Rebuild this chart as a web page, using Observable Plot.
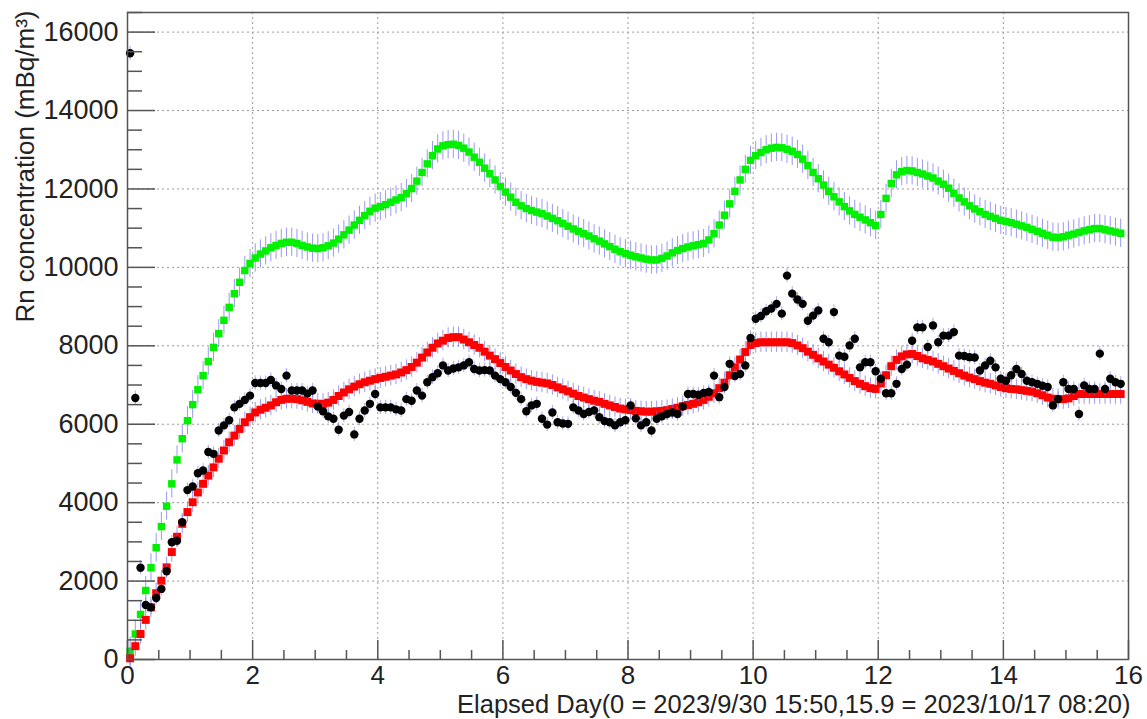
<!DOCTYPE html>
<html><head><meta charset="utf-8">
<script src="https://cdn.jsdelivr.net/npm/d3@7"></script>
<script src="https://cdn.jsdelivr.net/npm/@observablehq/plot@0.6"></script>
<style>body{margin:0;background:#fff;} #chart svg{display:block;}</style>
</head><body><div id="chart"></div>
<script>
// sampling: one point every 2 hours, first point at 1 hour
const firstDay = 1/24;
const stepDays = 1/12;

// green series (mBq/m^3)
const green = [
210,650,1150,1760,2340,2850,3390,3910,4480,5090,5630,6090,
6500,6880,7240,7600,7960,8310,8650,8980,9330,9620,9920,10100,
10240,10340,10420,10500,10560,10610,10640,10640,10610,10560,10520,10490,
10480,10500,10550,10620,10720,10830,10950,11080,11200,11320,11430,11510,
11550,11600,11660,11720,11780,11880,12010,12200,12420,12640,12850,13020,
13100,13130,13140,13110,13040,12940,12810,12680,12530,12390,12230,12060,
11920,11790,11660,11570,11500,11450,11410,11370,11310,11250,11190,11120,
11050,10980,10920,10860,10800,10730,10670,10600,10530,10460,10400,10350,
10310,10270,10240,10210,10190,10190,10230,10290,10370,10430,10480,10520,
10550,10580,10610,10700,10860,11080,11330,11620,11940,12230,12500,12730,
12850,12930,13000,13040,13060,13050,13010,12960,12880,12760,12600,12420,
12260,12100,11940,11800,11670,11550,11440,11350,11280,11210,11140,11070,
11350,11760,12140,12360,12440,12470,12460,12420,12380,12330,12280,12200,
12120,12020,11890,11770,11670,11570,11490,11420,11350,11300,11250,11200,
11170,11140,11100,11060,11020,10970,10920,10870,10820,10770,10760,10780,
10820,10850,10890,10930,10960,10990,10990,10960,10930,10900,10870
];

// red series
const red = [
30,340,650,1010,1330,1690,2010,2350,2740,3130,3460,3760,
4010,4260,4480,4690,4900,5120,5330,5540,5710,5880,6050,6180,
6300,6370,6420,6480,6560,6620,6650,6650,6640,6610,6570,6530,
6520,6520,6550,6620,6720,6810,6890,6960,7020,7070,7110,7150,
7180,7210,7240,7270,7320,7380,7460,7570,7700,7830,7950,8060,
8130,8200,8220,8220,8160,8090,8020,7950,7850,7750,7660,7560,
7460,7370,7280,7200,7150,7110,7080,7060,7040,7000,6940,6890,
6840,6780,6720,6680,6640,6600,6570,6520,6480,6440,6400,6380,
6360,6340,6330,6320,6320,6330,6340,6360,6390,6420,6460,6490,
6520,6560,6620,6700,6790,6920,7060,7250,7450,7650,7840,8020,
8070,8090,8090,8090,8090,8090,8090,8070,8010,7940,7850,7770,
7680,7600,7520,7440,7350,7270,7180,7100,7030,6970,6920,6900,
7040,7250,7480,7640,7730,7780,7790,7740,7680,7640,7600,7540,
7480,7420,7360,7300,7240,7190,7150,7100,7060,7030,6990,6950,
6920,6900,6890,6870,6850,6830,6790,6740,6680,6650,6640,6640,
6660,6720,6770,6770,6770,6770,6770,6770,6770,6770,6770
];

// black (measured) series
const black = [
15460,6670,2340,1390,1330,1570,1800,2250,2990,3030,3500,4320,
4410,4750,4820,5290,5245,5840,5970,6100,6430,6520,6620,6730,
7050,7050,7050,7130,6990,6900,7240,6860,6860,6860,6780,6860,
6450,6330,6200,6140,5860,6220,6310,5740,6140,6350,6520,6770,
6430,6430,6430,6380,6350,6640,6600,6860,6730,7070,7200,7300,
7500,7370,7420,7450,7500,7580,7410,7370,7380,7370,7240,7150,
7070,6950,6800,6640,6330,6480,6520,6140,5990,6300,6050,6020,
6010,6430,6350,6260,6310,6350,6180,6080,6050,5970,6050,6100,
6480,6150,5970,6050,5840,6140,6200,6260,6300,6260,6450,6770,
6770,6750,6800,6820,7240,6690,6950,7540,7230,7280,7500,8200,
8690,8760,8880,8950,9070,8820,9790,9330,9180,9070,8640,8770,
8900,8180,8090,8860,7750,7720,8010,8180,7450,7580,7580,7350,
7160,6790,6790,7030,7410,7520,8130,8470,8470,7970,8520,8090,
8260,8260,8350,7750,7740,7710,7700,7370,7500,7620,7450,7160,
7110,7250,7410,7280,7110,7070,7030,6980,6950,6480,6640,7070,
6900,6900,6260,6990,6900,6900,7800,6900,7160,7070,7030
];

// error half-widths
const errGreen = 360;
const errRed = 260;
const errBlack = 180;

// axes
const xMajor = [0,2,4,6,8,10,12,14,16];
const xMinor = [0.5,1,1.5,2.5,3,3.5,4.5,5,5.5,6.5,7,7.5,8.5,9,9.5,10.5,11,11.5,12.5,13,13.5,14.5,15,15.5];
const yMajor = [0,2000,4000,6000,8000,10000,12000,14000,16000];
const yMinor = [500,1000,1500,2500,3000,3500,4500,5000,5500,6500,7000,7500,8500,9000,9500,10500,11000,11500,12500,13000,13500,14500,15000,15500,16500];
const xDomain = [0,16];
const yDomain = [0,16500];
const xTitle = "Elapsed Day(0 = 2023/9/30 15:50,15.9 = 2023/10/17 08:20)";
const yTitle = "Rn concentration (mBq/m³)";

const toRows = vals => vals.map((v,i) => ({t: firstDay + i*stepDays, v}));
const G = toRows(green), R = toRows(red), B = toRows(black);

const W = 1147, H = 719, mL = 127, mR = 19, mT = 12, mB = 60;
const fh = H - mT - mB, fw = W - mL - mR;
const axisCol = "#555";
const barCol = "#6f6fe6";

const plot = Plot.plot({
  width: W, height: H,
  marginLeft: mL, marginRight: mR, marginTop: mT, marginBottom: mB,
  x: {domain: xDomain},
  y: {domain: yDomain},
  style: {fontFamily: "'Liberation Sans', Arial, Helvetica, sans-serif", background: "#fff", color: "#222", overflow: "visible"},
  marks: [
    Plot.ruleX(xMajor.slice(1, -1), {x: d => d, stroke: "#9a9a9a", strokeDasharray: "2,3", strokeWidth: 1}),
    Plot.ruleY(yMajor.slice(1), {y: d => d, stroke: "#9a9a9a", strokeDasharray: "2,3", strokeWidth: 1}),
    Plot.ruleX(G, {x: "t", y1: d => d.v - errGreen, y2: d => d.v + errGreen, stroke: barCol, strokeOpacity: 0.7, strokeWidth: 1}),
    Plot.dot(G, {x: "t", y: "v", symbol: "square", r: 4.2, fill: "#00f000", stroke: "none"}),
    Plot.ruleX(R, {x: "t", y1: d => d.v - errRed, y2: d => d.v + errRed, stroke: barCol, strokeOpacity: 0.7, strokeWidth: 1}),
    Plot.dot(R, {x: "t", y: "v", symbol: "square", r: 4.5, fill: "#ff0000", stroke: "none"}),
    Plot.ruleX(B, {x: "t", y1: d => d.v - errBlack, y2: d => d.v + errBlack, stroke: barCol, strokeOpacity: 0.6, strokeWidth: 1}),
    Plot.dot(B, {x: "t", y: "v", r: 4.2, fill: "#000", stroke: "none"}),
    Plot.tickX(xMajor, {x: d => d, insetTop: fh - 19, stroke: axisCol, strokeWidth: 1.5}),
    Plot.tickX(xMinor, {x: d => d, insetTop: fh - 9, stroke: axisCol, strokeWidth: 1.5}),
    Plot.tickY(yMajor, {y: d => d, insetRight: fw - 28, stroke: axisCol, strokeWidth: 1.5}),
    Plot.tickY(yMinor, {y: d => d, insetRight: fw - 15, stroke: axisCol, strokeWidth: 1.5}),
    Plot.frame({stroke: axisCol, strokeWidth: 1.5}),
    Plot.axisX({ticks: xMajor, tickSize: 0, tickPadding: 6, fontSize: 26, label: null, tickFormat: d => String(d)}),
    Plot.axisY({ticks: yMajor, tickSize: 0, tickPadding: 9, fontSize: 27, label: null, tickFormat: d => String(d)}),
    Plot.text([xTitle], {text: d => d, frameAnchor: "bottom-right", textAnchor: "end", lineAnchor: "middle", dx: 2, dy: 45, fontSize: 25.5}),
    Plot.text([yTitle], {text: d => d, frameAnchor: "top-left", textAnchor: "end", lineAnchor: "middle", rotate: -90, dx: -102, dy: -2, fontSize: 26})
  ]
});
document.getElementById("chart").appendChild(plot);
</script>
</body></html>
